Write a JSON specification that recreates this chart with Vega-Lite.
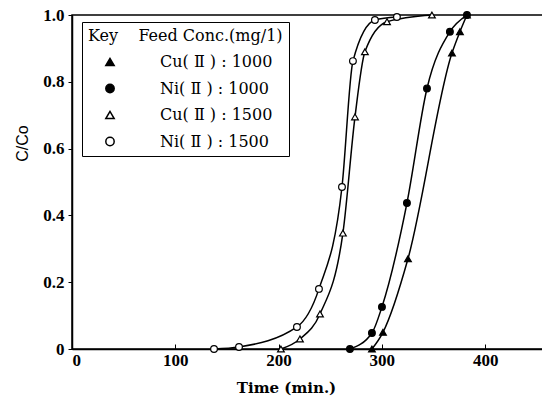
{
  "$schema": "https://vega.github.io/schema/vega-lite/v6.json",
  "width": 472,
  "height": 334,
  "autosize": {"type": "none"},
  "padding": {"left": 72, "top": 15, "right": 0, "bottom": 61},
  "background": "white",
  "config": {
    "view": {"stroke": "black", "strokeWidth": 1.5},
    "font": "Liberation Serif"
  },
  "data": {
    "values": [
      {"series": "Ni( Ⅱ ) : 1500", "time": 137.5, "cco": 0.0},
      {"series": "Ni( Ⅱ ) : 1500", "time": 161.7, "cco": 0.006},
      {"series": "Ni( Ⅱ ) : 1500", "time": 217.8, "cco": 0.066},
      {"series": "Ni( Ⅱ ) : 1500", "time": 239.1, "cco": 0.18},
      {"series": "Ni( Ⅱ ) : 1500", "time": 261.4, "cco": 0.485},
      {"series": "Ni( Ⅱ ) : 1500", "time": 272.0, "cco": 0.862},
      {"series": "Ni( Ⅱ ) : 1500", "time": 293.3, "cco": 0.985},
      {"series": "Ni( Ⅱ ) : 1500", "time": 314.6, "cco": 0.994},
      {"series": "Cu( Ⅱ ) : 1500", "time": 202.3, "cco": 0.0},
      {"series": "Cu( Ⅱ ) : 1500", "time": 220.7, "cco": 0.03},
      {"series": "Cu( Ⅱ ) : 1500", "time": 240.1, "cco": 0.105},
      {"series": "Cu( Ⅱ ) : 1500", "time": 262.3, "cco": 0.347},
      {"series": "Cu( Ⅱ ) : 1500", "time": 274.0, "cco": 0.695},
      {"series": "Cu( Ⅱ ) : 1500", "time": 283.6, "cco": 0.89},
      {"series": "Cu( Ⅱ ) : 1500", "time": 305.0, "cco": 0.98},
      {"series": "Cu( Ⅱ ) : 1500", "time": 348.5, "cco": 1.0},
      {"series": "Ni( Ⅱ ) : 1000", "time": 269.1, "cco": 0.0},
      {"series": "Ni( Ⅱ ) : 1000", "time": 290.4, "cco": 0.048},
      {"series": "Ni( Ⅱ ) : 1000", "time": 300.1, "cco": 0.126},
      {"series": "Ni( Ⅱ ) : 1000", "time": 324.3, "cco": 0.437},
      {"series": "Ni( Ⅱ ) : 1000", "time": 343.7, "cco": 0.78},
      {"series": "Ni( Ⅱ ) : 1000", "time": 365.9, "cco": 0.95},
      {"series": "Ni( Ⅱ ) : 1000", "time": 382.4, "cco": 1.0},
      {"series": "Cu( Ⅱ ) : 1000", "time": 290.4, "cco": 0.0},
      {"series": "Cu( Ⅱ ) : 1000", "time": 301.1, "cco": 0.05},
      {"series": "Cu( Ⅱ ) : 1000", "time": 325.3, "cco": 0.27},
      {"series": "Cu( Ⅱ ) : 1000", "time": 367.9, "cco": 0.886},
      {"series": "Cu( Ⅱ ) : 1000", "time": 375.6, "cco": 0.95},
      {"series": "Cu( Ⅱ ) : 1000", "time": 382.4, "cco": 1.0}
    ]
  },
  "encoding": {
    "x": {
      "field": "time",
      "type": "quantitative",
      "scale": {"domain": [0, 457], "nice": false, "zero": false},
      "axis": {
        "values": [0, 100, 200, 300, 400],
        "title": "Time (min.)",
        "grid": false,
        "tickSize": -5,
        "tickColor": "black",
        "domainColor": "black",
        "domainWidth": 1.5,
        "labelFontSize": 17,
        "labelFontWeight": "bold",
        "labelColor": "black",
        "labelPadding": 8,
        "titleFont": "DejaVu Serif",
        "titleFontSize": 15,
        "titleFontWeight": "bold",
        "titleColor": "black",
        "titlePadding": 12,
        "titleX": 214
      }
    },
    "y": {
      "field": "cco",
      "type": "quantitative",
      "scale": {"domain": [0, 1], "nice": false},
      "axis": {
        "values": [0, 0.2, 0.4, 0.6, 0.8, 1.0],
        "labelExpr": "datum.value == 0 ? '0' : format(datum.value, '.1f')",
        "title": "C/Co",
        "grid": false,
        "tickSize": 4,
        "tickColor": "black",
        "domainColor": "black",
        "domainWidth": 1.5,
        "labelFontSize": 17,
        "labelFontWeight": "bold",
        "labelColor": "black",
        "labelPadding": 4,
        "titleFontSize": 16,
        "titleFont": "Liberation Sans",
        "titleFontWeight": "normal",
        "titleColor": "black",
        "titlePadding": 12,
        "titleY": 128
      }
    }
  },
  "layer": [
    {
      "mark": {"type": "line", "interpolate": "monotone", "color": "black", "strokeWidth": 1.5},
      "encoding": {"detail": {"field": "series"}}
    },
    {
      "mark": {"type": "point", "filled": true, "stroke": "black", "strokeWidth": 1.2, "size": 45, "opacity": 1},
      "encoding": {
        "shape": {
          "field": "series",
          "type": "nominal",
          "scale": {
            "domain": ["Cu( Ⅱ ) : 1000", "Ni( Ⅱ ) : 1000", "Cu( Ⅱ ) : 1500", "Ni( Ⅱ ) : 1500"],
            "range": ["triangle-up", "circle", "triangle-up", "circle"]
          },
          "legend": {
            "title": "Key\u00a0\u00a0\u00a0\u00a0Feed Conc.(mg/1)",
            "orient": "none",
            "legendX": 10,
            "legendY": 7,
            "strokeColor": "black",
            "fillColor": "white",
            "padding": 6,
            "titleFont": "DejaVu Serif",
            "titleFontSize": 16,
            "titleFontWeight": "normal",
            "titleColor": "black",
            "titleLimit": 400,
            "labelFont": "DejaVu Serif",
            "labelFontSize": 16,
            "labelColor": "black",
            "symbolSize": 70,
            "symbolOffset": 14,
            "labelOffset": 42,
            "rowPadding": 10.5,
            "titlePadding": 10,
            "encode": {
              "symbols": {
                "update": {
                  "stroke": {"value": "black"},
                  "strokeWidth": {"value": 1.2},
                  "opacity": {"value": 1}
                }
              }
            }
          }
        },
        "fill": {
          "field": "series",
          "type": "nominal",
          "scale": {
            "domain": ["Cu( Ⅱ ) : 1000", "Ni( Ⅱ ) : 1000", "Cu( Ⅱ ) : 1500", "Ni( Ⅱ ) : 1500"],
            "range": ["black", "black", "white", "white"]
          },
          "legend": {
            "title": "Key\u00a0\u00a0\u00a0\u00a0Feed Conc.(mg/1)",
            "orient": "none",
            "legendX": 10,
            "legendY": 7,
            "strokeColor": "black",
            "fillColor": "white",
            "padding": 6,
            "titleFont": "DejaVu Serif",
            "titleFontSize": 16,
            "titleFontWeight": "normal",
            "titleColor": "black",
            "titleLimit": 400,
            "labelFont": "DejaVu Serif",
            "labelFontSize": 16,
            "labelColor": "black",
            "symbolSize": 70,
            "symbolOffset": 14,
            "labelOffset": 42,
            "rowPadding": 10.5,
            "titlePadding": 10,
            "encode": {
              "symbols": {
                "update": {
                  "stroke": {"value": "black"},
                  "strokeWidth": {"value": 1.2},
                  "opacity": {"value": 1}
                }
              }
            }
          }
        }
      }
    }
  ]
}
